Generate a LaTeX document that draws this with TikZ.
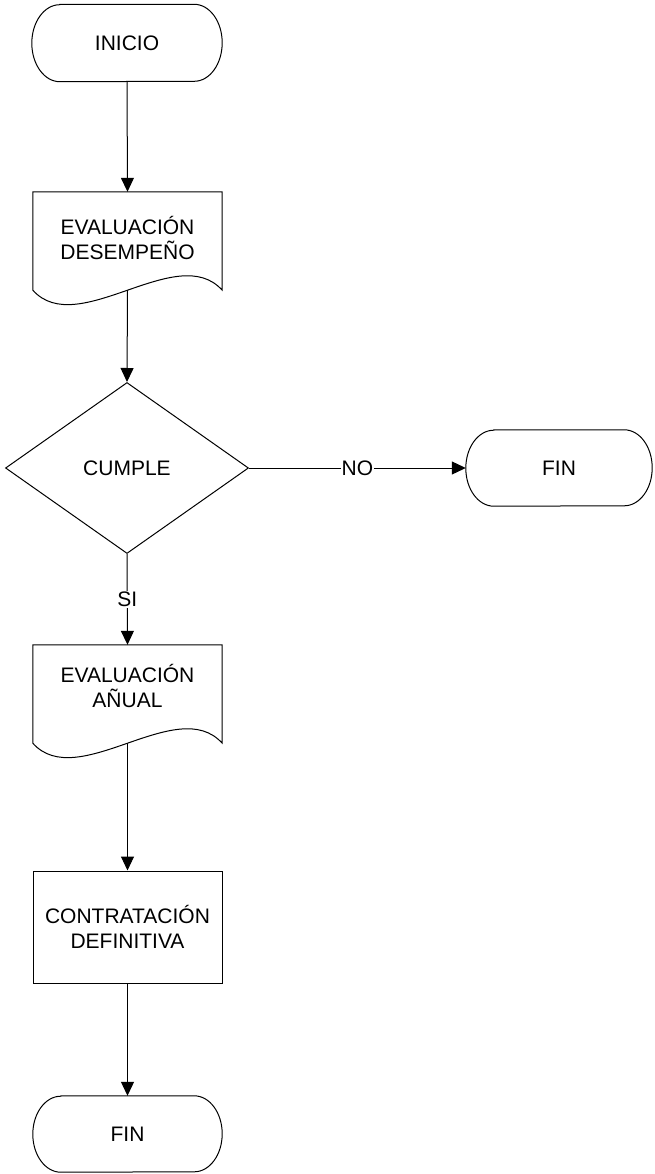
\documentclass[tikz,border=0pt]{standalone}
\usepackage{fontspec}
\setmainfont{Liberation Sans}
\usetikzlibrary{arrows.meta,shapes.geometric}
\newcommand{\termborder}[2]{%
  \draw[shapeline] ([xshift=28pt]#1.north west) -- ([xshift=-28pt]#1.north east)
    arc[start angle=90,end angle=-90,x radius=28pt,y radius=#2]
    -- ([xshift=28pt]#1.south west)
    arc[start angle=270,end angle=90,x radius=28pt,y radius=#2] -- cycle;}
\newcommand{\docborder}[1]{%
  \draw[shapeline] (#1.south west) -- (#1.north west) -- (#1.north east) -- (#1.south east)
    .. controls +(-45,-50) and +(45,50) .. (#1.south west);}
\begin{document}
\begin{tikzpicture}[x=1pt,y=-1pt,
  font=\fontsize{21}{25}\selectfont,
  shapeline/.style={line width=1pt,black},
  box/.style={rectangle,draw=none,inner sep=0pt,align=center},
  txt/.style={inner sep=0pt,align=center},
  arr/.style={line width=1pt,-{Triangle[length=14pt,width=13pt]}},
  lbl/.style={fill=white,inner sep=1pt}]
\fill[white] (0,0) rectangle (654,1174);
\useasboundingbox (0,0) rectangle (654,1174);
% terminators
\node[box,minimum width=190pt,minimum height=77pt] (ini) at (127,43) {INICIO};
\termborder{ini}{38.5pt}
\node[box,minimum width=186pt,minimum height=76pt] (fin1) at (559,468) {FIN};
\termborder{fin1}{38pt}
\node[box,minimum width=189pt,minimum height=76pt] (fin2) at (127.5,1134) {FIN};
\termborder{fin2}{38pt}
% documents
\node[box,minimum width=189pt,minimum height=98pt] (doc1) at (127.5,241) {};
\docborder{doc1}
\node[txt] (doc1t) at (127.5,238) {EVALUACIÓN\\DESEMPEÑO};
\node[box,minimum width=189pt,minimum height=98pt] (doc2) at (127.5,694) {};
\docborder{doc2}
\node[txt] (doc2t) at (127.5,686) {EVALUACIÓN\\AÑUAL};
% decision
\node[diamond,draw,line width=1pt,inner sep=0pt,minimum width=243pt,minimum height=171pt] (dec) at (127,468) {CUMPLE};
% process
\node[rectangle,draw,line width=1pt,inner sep=0pt,align=center,minimum width=189pt,minimum height=112pt] (proc) at (127.5,927) {CONTRATACIÓN\\DEFINITIVA};
% connectors
\draw[arr] (ini.south) -- (doc1.north);
\draw[arr] (doc1.south) -- (dec.north);
\draw[arr] (dec.east) -- node[lbl] (no) {NO} (fin1.west);
\draw[arr] (dec.south) -- node[lbl] (si) {SI} (doc2.north);
\draw[arr] (doc2.south) -- (proc.north);
\draw[arr] (proc.south) -- (fin2.north);
\end{tikzpicture}
\end{document}
